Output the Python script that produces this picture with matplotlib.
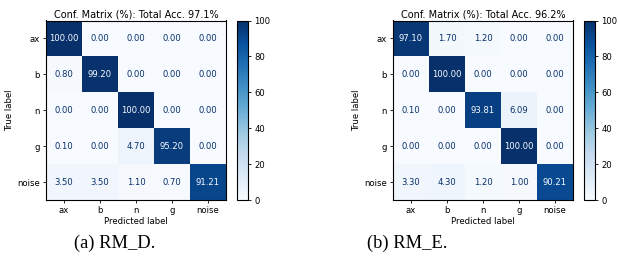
import numpy as np
import matplotlib
matplotlib.use("Agg")
import matplotlib.pyplot as plt

labels = ["ax", "b", "n", "g", "noise"]

cm_d = np.array([
    [100.00, 0.00, 0.00, 0.00, 0.00],
    [0.80, 99.20, 0.00, 0.00, 0.00],
    [0.00, 0.00, 100.00, 0.00, 0.00],
    [0.10, 0.00, 4.70, 95.20, 0.00],
    [3.50, 3.50, 1.10, 0.70, 91.21],
])
cm_e = np.array([
    [97.10, 1.70, 1.20, 0.00, 0.00],
    [0.00, 100.00, 0.00, 0.00, 0.00],
    [0.10, 0.00, 93.81, 6.09, 0.00],
    [0.00, 0.00, 0.00, 100.00, 0.00],
    [3.30, 4.30, 1.20, 1.00, 90.21],
])
titles = ["Conf. Matrix (%): Total Acc. 97.1%", "Conf. Matrix (%): Total Acc. 96.2%"]
captions = ["(a) RM_D.", "(b) RM_E."]

W, H = 619, 264
fig = plt.figure(figsize=(W / 100, H / 100), dpi=100)

def fx(px):
    return px / W

def fy(py):
    return 1 - py / H

cmap = plt.get_cmap("Blues")
panels = [
    (cm_d, titles[0], captions[0], 46, 237, 114.5),
    (cm_e, titles[1], captions[1], 393, 584, 407.5),
]
top, bottom = 20.5, 200
fs = 6.1
for cm, title, cap, x0, cx0, capx in panels:
    ax = fig.add_axes([fx(x0), fy(bottom), fx(180), (bottom - top) / H])
    im = ax.imshow(cm, cmap=cmap, vmin=0, vmax=100, interpolation="nearest", aspect="auto")
    thresh = (cm.max() + cm.min()) / 2.0
    for i in range(cm.shape[0]):
        for j in range(cm.shape[1]):
            color = cmap(0.0) if cm[i, j] > thresh else cmap(1.0)
            ax.text(j, i, f"{cm[i, j]:.2f}", ha="center", va="center", color=color, fontsize=fs)
    ax.set_xticks(range(len(labels)))
    ax.set_yticks(range(len(labels)))
    ax.set_xticklabels(labels, fontsize=fs)
    ax.set_yticklabels(labels, fontsize=fs)
    ax.tick_params(length=2.5, width=0.6, pad=2)
    ax.set_xlabel("Predicted label", fontsize=fs, labelpad=1)
    ax.set_ylabel("True label", fontsize=fs, labelpad=2)
    ax.set_title(title, fontsize=7.0, pad=2.5)
    for s in ax.spines.values():
        s.set_linewidth(0.8)
    cax = fig.add_axes([fx(cx0), fy(bottom), fx(11), (bottom - top) / H])
    cb = fig.colorbar(im, cax=cax)
    cb.set_ticks([0, 20, 40, 60, 80, 100])
    cb.ax.tick_params(labelsize=fs, length=2.5, width=0.6, pad=2)
    cb.outline.set_linewidth(0.8)
    fig.text(fx(capx), fy(243.5), cap, ha="center", va="center",
             fontsize=13.3, family="Liberation Serif")

fig.savefig("out.png", dpi=100)
